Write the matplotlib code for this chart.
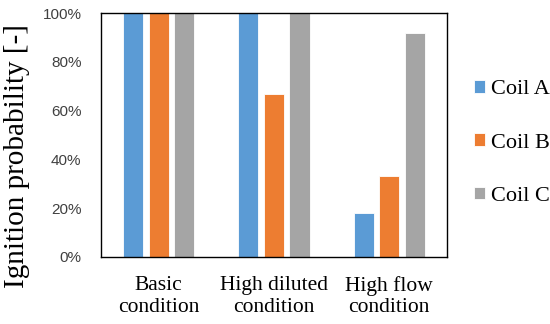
import matplotlib
matplotlib.use("Agg")
import matplotlib.pyplot as plt
import numpy as np
from matplotlib.ticker import PercentFormatter

categories = ["Basic\ncondition", "High diluted\ncondition", "High flow\ncondition"]
series_names = ["Coil A", "Coil B", "Coil C"]
coil_a = [100.0, 100.0, 18.2]
coil_b = [100.0, 66.7, 33.3]
coil_c = [100.0, 100.0, 91.7]
colors = ["#5B9BD5", "#ED7D31", "#A5A5A5"]
yticks = [0, 20, 40, 60, 80, 100]

fig = plt.figure(figsize=(5.5, 3.24), dpi=100)
ax = fig.add_axes([0.1836, 0.2068, 0.629, 0.753])

x = np.arange(len(categories))
w = 0.175
step = 0.222
for i, (vals, name, c) in enumerate(zip([coil_a, coil_b, coil_c], series_names, colors)):
    ax.bar(x + (i - 1) * step, vals, width=w, color=c, label=name,
           edgecolor="white", linewidth=0.6)

ax.set_xlim(-0.5, 2.5)
ax.set_ylim(0, 100)
ax.set_yticks(yticks)
ax.yaxis.set_major_formatter(PercentFormatter(decimals=0))
ax.set_xticks(x)
ax.set_xticklabels(categories, fontfamily="Liberation Serif", fontsize=15.5, linespacing=1.15)
for lab in ax.get_yticklabels():
    lab.set_fontfamily("Liberation Sans")
    lab.set_fontsize(11)
    lab.set_color("#404040")
ax.tick_params(axis="both", length=0)
ax.tick_params(axis="y", pad=14)
ax.tick_params(axis="x", pad=14)
for s in ax.spines.values():
    s.set_color("black")
    s.set_linewidth(1.0)

ax.set_ylabel("Ignition probability [-]", fontfamily="Liberation Serif", fontsize=21)
ax.yaxis.set_label_coords(-0.205, 0.414)

ax.legend(loc="center left", bbox_to_anchor=(1.02, 0.467), frameon=False,
          prop={"family": "Liberation Serif", "size": 16},
          handlelength=0.5, handleheight=0.5, handletextpad=0.25, labelspacing=1.53)

fig.savefig("out.png", dpi=100)
